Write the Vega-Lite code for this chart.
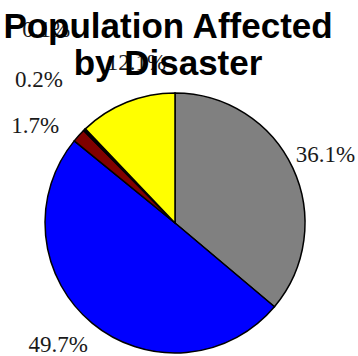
{
  "$schema": "https://vega.github.io/schema/vega-lite/v6.json",
  "width": 350,
  "height": 266,
  "autosize": {"type": "none"},
  "padding": {"left": 0, "top": 90, "right": 8, "bottom": 0},
  "background": "white",
  "title": {
    "text": ["Population Affected", "by Disaster"],
    "font": "Liberation Sans",
    "fontSize": 35,
    "fontWeight": "bold",
    "color": "black",
    "anchor": "middle",
    "frame": "group",
    "lineHeight": 37,
    "dx": -7,
    "offset": -97
  },
  "data": {
    "values": [
      {"id": 1, "cat": "Category A", "value": 36.1, "label": "36.1%"},
      {"id": 2, "cat": "Category B", "value": 49.7, "label": "49.7%"},
      {"id": 3, "cat": "Category C", "value": 1.7, "label": "1.7%"},
      {"id": 4, "cat": "Category D", "value": 0.2, "label": "0.2%"},
      {"id": 5, "cat": "Category E", "value": 0.1, "label": "0.1%"},
      {"id": 6, "cat": "Category F", "value": 12.1, "label": "12.1%"}
    ]
  },
  "encoding": {
    "theta": {"field": "value", "type": "quantitative", "stack": true},
    "order": {"field": "id", "type": "quantitative"}
  },
  "layer": [
    {
      "mark": {"type": "arc", "outerRadius": 130, "stroke": "black", "strokeWidth": 1.5},
      "encoding": {
        "color": {
          "field": "cat",
          "type": "nominal",
          "scale": {
            "domain": ["Category A", "Category B", "Category C", "Category D", "Category E", "Category F"],
            "range": ["#808080", "#0000ff", "#800000", "#330066", "#006666", "#ffff00"]
          },
          "legend": null
        }
      }
    },
    {
      "mark": {"type": "text", "radius": 166, "dx": 0, "dy": 2, "font": "Liberation Serif", "fontSize": 23, "fill": "#1a1a1a"},
      "encoding": {"text": {"condition": {"test": "datum.id == 1", "field": "label", "type": "nominal"}, "value": ""}}
    },
    {
      "mark": {"type": "text", "radius": 166, "dx": -11, "dy": -6, "font": "Liberation Serif", "fontSize": 23, "fill": "#1a1a1a"},
      "encoding": {"text": {"condition": {"test": "datum.id == 2", "field": "label", "type": "nominal"}, "value": ""}}
    },
    {
      "mark": {"type": "text", "radius": 166, "dx": -17, "dy": 15, "font": "Liberation Serif", "fontSize": 23, "fill": "#1a1a1a"},
      "encoding": {"text": {"condition": {"test": "datum.id == 3", "field": "label", "type": "nominal"}, "value": ""}}
    },
    {
      "mark": {"type": "text", "radius": 166, "dx": -20, "dy": -24, "font": "Liberation Serif", "fontSize": 23, "fill": "#1a1a1a"},
      "encoding": {"text": {"condition": {"test": "datum.id == 4", "field": "label", "type": "nominal"}, "value": ""}}
    },
    {
      "mark": {"type": "text", "radius": 166, "dx": -14, "dy": -73, "font": "Liberation Serif", "fontSize": 23, "fill": "#1a1a1a"},
      "encoding": {"text": {"condition": {"test": "datum.id == 5", "field": "label", "type": "nominal"}, "value": ""}}
    },
    {
      "mark": {"type": "text", "radius": 166, "dx": 23, "dy": -6, "font": "Liberation Serif", "fontSize": 23, "fill": "#1a1a1a"},
      "encoding": {"text": {"condition": {"test": "datum.id == 6", "field": "label", "type": "nominal"}, "value": ""}}
    }
  ],
  "config": {"view": {"stroke": null}}
}
